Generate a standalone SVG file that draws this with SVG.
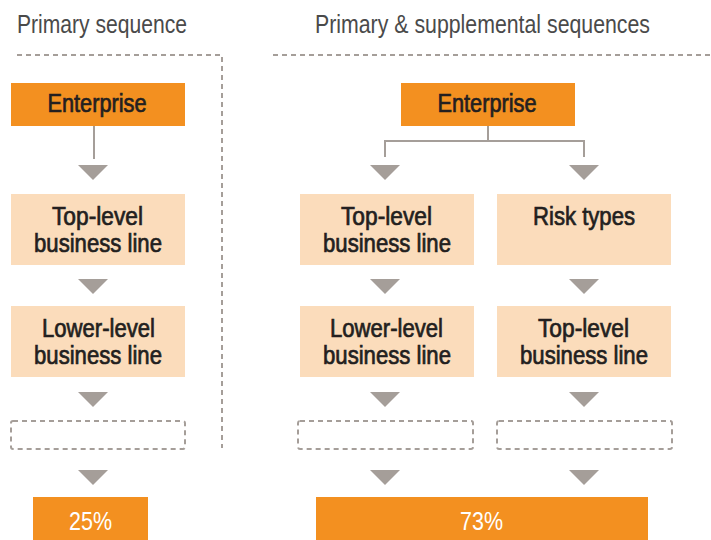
<svg xmlns="http://www.w3.org/2000/svg" width="711" height="540" viewBox="0 0 711 540">
<style>
.title{font-family:"Liberation Sans",Arial,sans-serif;font-size:25px;fill:#4a4a4a}
.lbl{font-family:"Liberation Sans",Arial,sans-serif;font-size:25px;fill:#231f20;stroke:#231f20;stroke-width:0.7;text-anchor:middle}
.pct{font-family:"Liberation Sans",Arial,sans-serif;font-size:26px;fill:#ffffff;text-anchor:middle}
.orange{fill:#f39020}
.peach{fill:#fbdcbb}
.dash{fill:none;stroke:#a59e99;stroke-width:2;stroke-dasharray:5 4}
.conn{fill:none;stroke:#a59e99;stroke-width:2}
.tri{fill:#a59e99}
</style>
<defs>
<polygon id="tri" points="-15,0 15,0 0,15"/>
</defs>
<g id="titles">
<text class="title" x="17" y="33" textLength="170" lengthAdjust="spacingAndGlyphs">Primary sequence</text>
<text class="title" x="315" y="33" textLength="335" lengthAdjust="spacingAndGlyphs">Primary &amp; supplemental sequences</text>
</g>
<g id="dividers">
<polyline class="dash" points="17,55 222,55 222,448"/>
<line class="dash" x1="273" y1="55" x2="711" y2="55"/>
</g>
<g id="connectors">
<line class="conn" x1="94" y1="126" x2="94" y2="159"/>
<polyline class="conn" points="385,157 385,141 584,141 584,157"/>
<line class="conn" x1="488" y1="126" x2="488" y2="141"/>
<use href="#tri" class="tri" x="93" y="165"/>
<use href="#tri" class="tri" x="93" y="279"/>
<use href="#tri" class="tri" x="93" y="392"/>
<use href="#tri" class="tri" x="93" y="470"/>
<use href="#tri" class="tri" x="385" y="165"/>
<use href="#tri" class="tri" x="385" y="279"/>
<use href="#tri" class="tri" x="385" y="392"/>
<use href="#tri" class="tri" x="385" y="470"/>
<use href="#tri" class="tri" x="584" y="165"/>
<use href="#tri" class="tri" x="584" y="279"/>
<use href="#tri" class="tri" x="584" y="392"/>
<use href="#tri" class="tri" x="584" y="470"/>
</g>
<g id="enterprise-left">
<rect class="orange" x="11" y="83" width="174" height="43"/>
<text class="lbl" x="97" y="112" textLength="99" lengthAdjust="spacingAndGlyphs">Enterprise</text>
</g>
<g id="top-level-left">
<rect class="peach" x="11" y="194" width="174" height="71"/>
<text class="lbl" x="97.5" y="225" textLength="91" lengthAdjust="spacingAndGlyphs">Top-level</text>
<text class="lbl" x="98" y="252" textLength="128" lengthAdjust="spacingAndGlyphs">business line</text>
</g>
<g id="lower-level-left">
<rect class="peach" x="11" y="306" width="174" height="71"/>
<text class="lbl" x="98.5" y="337" textLength="113" lengthAdjust="spacingAndGlyphs">Lower-level</text>
<text class="lbl" x="98" y="364" textLength="128" lengthAdjust="spacingAndGlyphs">business line</text>
</g>
<g id="placeholder-left">
<rect class="dash" x="11" y="421" width="174" height="28" rx="2"/>
</g>
<g id="result-left">
<rect class="orange" x="33" y="497" width="115" height="43"/>
<text class="pct" x="90.5" y="530" textLength="43" lengthAdjust="spacingAndGlyphs">25%</text>
</g>
<g id="enterprise-right">
<rect class="orange" x="401" y="83" width="174" height="43"/>
<text class="lbl" x="487" y="112" textLength="99" lengthAdjust="spacingAndGlyphs">Enterprise</text>
</g>
<g id="top-level-right">
<rect class="peach" x="300" y="194" width="174" height="71"/>
<text class="lbl" x="386.5" y="225" textLength="91" lengthAdjust="spacingAndGlyphs">Top-level</text>
<text class="lbl" x="387" y="252" textLength="128" lengthAdjust="spacingAndGlyphs">business line</text>
</g>
<g id="risk-types">
<rect class="peach" x="497" y="194" width="174" height="71"/>
<text class="lbl" x="584" y="225" textLength="102" lengthAdjust="spacingAndGlyphs">Risk types</text>
</g>
<g id="lower-level-right">
<rect class="peach" x="300" y="306" width="174" height="71"/>
<text class="lbl" x="386.5" y="337" textLength="113" lengthAdjust="spacingAndGlyphs">Lower-level</text>
<text class="lbl" x="387" y="364" textLength="128" lengthAdjust="spacingAndGlyphs">business line</text>
</g>
<g id="top-level-risk">
<rect class="peach" x="497" y="306" width="174" height="71"/>
<text class="lbl" x="583.5" y="337" textLength="91" lengthAdjust="spacingAndGlyphs">Top-level</text>
<text class="lbl" x="584" y="364" textLength="128" lengthAdjust="spacingAndGlyphs">business line</text>
</g>
<g id="placeholder-mid">
<rect class="dash" x="298" y="421" width="175" height="28" rx="2"/>
</g>
<g id="placeholder-right">
<rect class="dash" x="497" y="421" width="175" height="28" rx="2"/>
</g>
<g id="result-right">
<rect class="orange" x="316" y="497" width="332" height="43"/>
<text class="pct" x="481.5" y="530" textLength="43" lengthAdjust="spacingAndGlyphs">73%</text>
</g>
</svg>
